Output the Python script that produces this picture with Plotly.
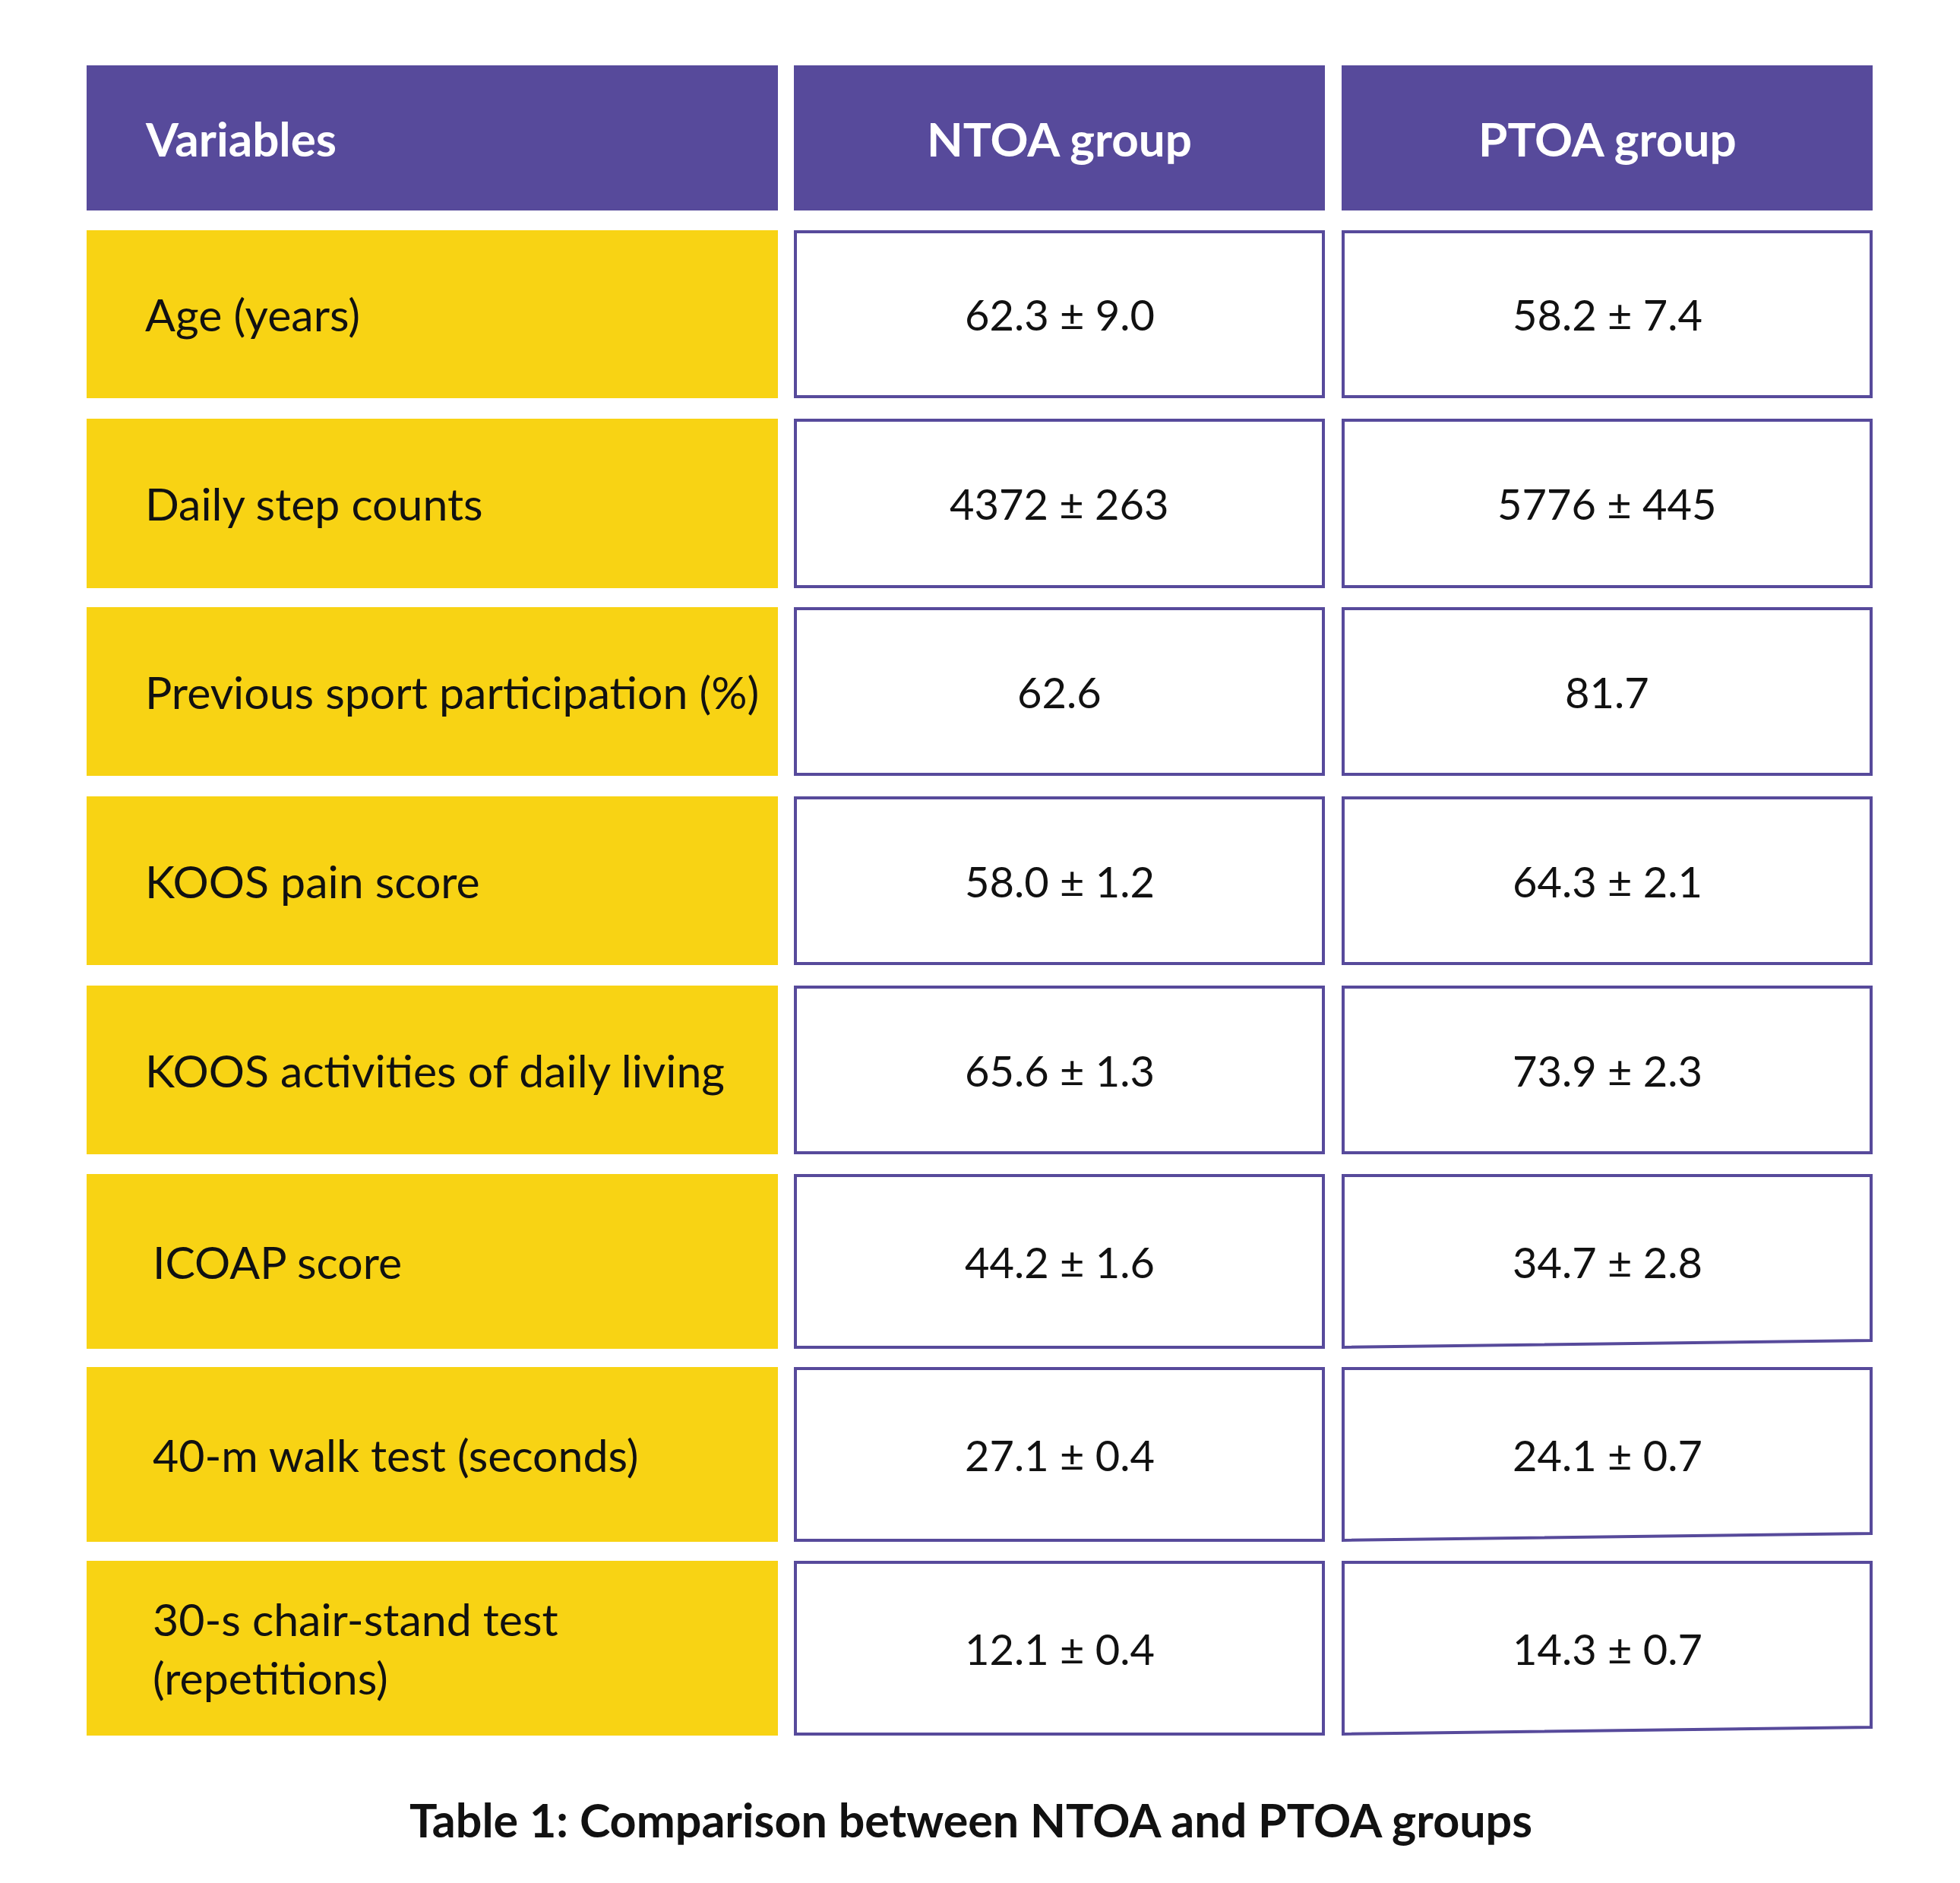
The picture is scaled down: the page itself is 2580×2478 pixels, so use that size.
import plotly.graph_objects as go

# table content
headers = ["Variables", "NTOA group", "PTOA group"]
variables = [
    "Age (years)",
    "Daily step counts",
    "Previous sport participation (%)",
    "KOOS pain score",
    "KOOS activities of daily living",
    "ICOAP score",
    "40-m walk test (seconds)",
    "30-s chair-stand test<br>(repetitions)",
]
ntoa = ["62.3 ± 9.0", "4372 ± 263", "62.6", "58.0 ± 1.2", "65.6 ± 1.3",
        "44.2 ± 1.6", "27.1 ± 0.4", "12.1 ± 0.4"]
ptoa = ["58.2 ± 7.4", "5776 ± 445", "81.7", "64.3 ± 2.1", "73.9 ± 2.3",
        "34.7 ± 2.8", "24.1 ± 0.7", "14.3 ± 0.7"]
caption = "Table 1: Comparison between NTOA and PTOA groups"

# layout (page pixels)
W, H = 2580, 2478
PAD = 8   # browser body margin
cols = [(114, 1024), (1045, 1744), (1766, 2465)]
head = (86, 277)
row_top = [303, 551, 799, 1048, 1297, 1545, 1799, 2054]
row_bot = [524, 774, 1021, 1270, 1519, 1775, 2029, 2284]
skew = [0, 0, 0, 0, 0, 9, 9, 9]   # last col bottoms slope up on the right
label_x = [189, 189, 189, 189, 189, 199, 199, 199]

PURPLE = "#574A9B"
YELLOW = "#F8D314"
FONT = "Lato"
lw = 4

fig = go.Figure()
shapes = []
annos = []

# header
for (x0, x1), h in zip(cols, headers):
    shapes.append(dict(type="rect", x0=x0, x1=x1, y0=head[0], y1=head[1],
                       fillcolor=PURPLE, line_width=0, layer="below"))
yc = (head[0] + head[1]) / 2
annos.append(dict(x=189, y=yc, text=headers[0], xanchor="left"))
for (x0, x1), h in zip(cols[1:], headers[1:]):
    annos.append(dict(x=(x0 + x1) / 2, y=yc, text=h, xanchor="center"))
for a in annos:
    a.update(yanchor="middle", showarrow=False,
             font=dict(family=FONT, size=62, color="white", weight="bold"))

# body rows
for i, lab in enumerate(variables):
    t, b = row_top[i], row_bot[i]
    yc = (t + b) / 2
    x0, x1 = cols[0]
    shapes.append(dict(type="rect", x0=x0, x1=x1, y0=t, y1=b,
                       fillcolor=YELLOW, line_width=0, layer="below"))
    annos.append(dict(x=label_x[i], y=yc, text=lab, xanchor="left",
                      yanchor="middle", showarrow=False, align="left",
                      font=dict(family=FONT, size=59, color="#111111")))
    for (c0, c1), val, sk in zip(cols[1:], [ntoa[i], ptoa[i]], [0, skew[i]]):
        h2 = lw / 2
        path = (f"M {c0 + h2},{t + h2} L {c1 - h2},{t + h2} "
                f"L {c1 - h2},{b - h2 - sk} L {c0 + h2},{b - h2} Z")
        shapes.append(dict(type="path", path=path, fillcolor="white",
                           line=dict(color=PURPLE, width=lw), layer="below"))
        annos.append(dict(x=(c0 + c1) / 2, y=yc, text=val, xanchor="center",
                          yanchor="middle", showarrow=False,
                          font=dict(family=FONT, size=56, color="#111111")))

annos.append(dict(x=1278, y=2394, text=caption, xanchor="center",
                  yanchor="middle", showarrow=False,
                  font=dict(family=FONT, size=61, color="#111111", weight="bold")))

fig.update_layout(
    width=W - 2 * PAD, height=H - 2 * PAD,
    margin=dict(l=0, r=0, t=0, b=0),
    paper_bgcolor="white", plot_bgcolor="white",
    shapes=shapes, annotations=annos,
    xaxis=dict(range=[PAD, W - PAD], visible=False, fixedrange=True),
    yaxis=dict(range=[H - PAD, PAD], visible=False, fixedrange=True),
    showlegend=False,
)

fig.write_html("out.html")
